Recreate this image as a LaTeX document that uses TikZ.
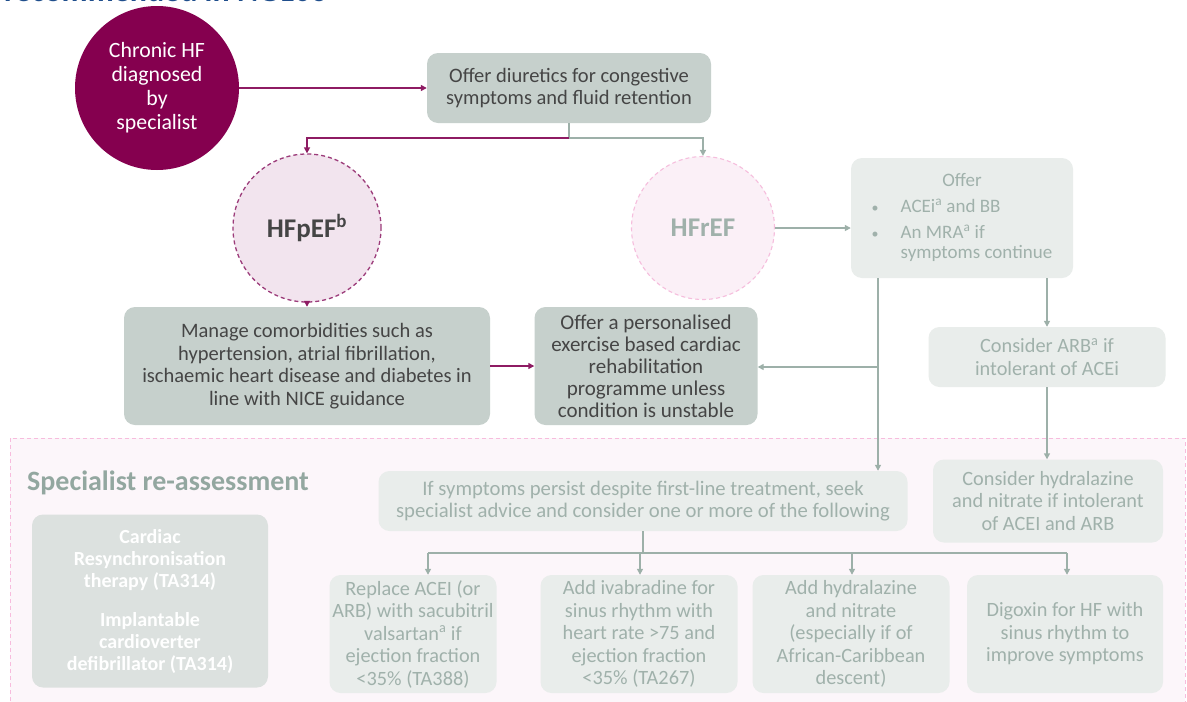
\documentclass[tikz,border=0pt]{standalone}
\usepackage{fontspec}
\setmainfont{Carlito}
\usetikzlibrary{arrows.meta}
\definecolor{chronicc}{HTML}{85004F}
\definecolor{magline}{HTML}{8E1B63}
\definecolor{pefFill}{HTML}{F2E4EE}
\definecolor{pefBorder}{HTML}{9C3C7A}
\definecolor{refFill}{HTML}{FBF0F7}
\definecolor{refBorder}{HTML}{F6BEDD}
\definecolor{darkBox}{HTML}{C6D0CC}
\definecolor{darkText}{HTML}{454545}
\definecolor{lightBox}{HTML}{E9EDEB}
\definecolor{lightText}{HTML}{A0B1AB}
\definecolor{lineGrey}{HTML}{9DB0A9}
\definecolor{secFill}{HTML}{FCF6FA}
\definecolor{secBorder}{HTML}{F7BCDD}
\definecolor{crtFill}{HTML}{DCE1DF}
\definecolor{specTitle}{HTML}{93A7A0}
\definecolor{titleBlue}{HTML}{1F4E8C}
\tikzset{
  boxbase/.style={rectangle, rounded corners=11pt, align=center, inner sep=0pt},
  darkbox/.style={boxbase, fill=darkBox, text=darkText, font=\fontsize{20.5}{22}\selectfont},
  lightbox/.style={boxbase, fill=lightBox, text=lightText, font=\fontsize{20.3}{22.5}\selectfont},
  marrow/.style={draw=magline, line width=1.4pt, -{Triangle[length=6pt,width=6pt]}},
  mline/.style={draw=magline, line width=1.4pt},
  garrow/.style={draw=lineGrey, line width=1.4pt, -{Triangle[length=6pt,width=6pt]}},
  gline/.style={draw=lineGrey, line width=1.4pt},
}
\begin{document}
\begin{tikzpicture}[x=1pt,y=-1pt]
\useasboundingbox (0,0) rectangle (1187,702);
\clip (0,0) rectangle (1187,702);
\fill[white] (0,0) rectangle (1187,702);
% cut-off title
\node[anchor=base west, inner sep=0pt, text=titleBlue, font=\fontsize{32}{32}\selectfont\bfseries] (title) at (4,1.5) {recommended in NG106};
% specialist section
\draw[fill=secFill, draw=secBorder, dashed, line width=1pt, dash pattern=on 4pt off 3pt] (10,438) rectangle (1185,712);
\node[anchor=base west, inner sep=0pt, text=specTitle, font=\fontsize{28}{28}\selectfont\bfseries] (spec) at (27,490) {Specialist re-assessment};
% nodes
\node[circle, fill=chronicc, text=white, minimum size=164pt, inner sep=0pt, align=center, font=\fontsize{21.8}{24}\selectfont] (chronic) at (157,88) {Chronic HF\\diagnosed\\by\\specialist};
\node[darkbox, minimum width=284pt, minimum height=70pt, font=\fontsize{20.5}{21.5}\selectfont] (diur) at (569,88) {Offer diuretics for congestive\\symptoms and fluid retention};
\node[circle, fill=pefFill, draw=pefBorder, dashed, dash pattern=on 4pt off 3pt, line width=1.3pt, minimum size=148pt, inner sep=0pt, text=darkText, font=\fontsize{27}{27}\selectfont\bfseries] (hfpef) at (307,228) {HFpEF\textsuperscript{b}};
\node[circle, fill=refFill, draw=refBorder, dashed, dash pattern=on 4pt off 3pt, line width=1.1pt, minimum size=143pt, inner sep=0pt, text=lightText, font=\fontsize{27}{27}\selectfont\bfseries] (hfref) at (703,228) {HFrEF};
\node[lightbox, minimum width=222pt, minimum height=120pt, font=\fontsize{19}{20}\selectfont] (offer) at (962,218) {%
\begin{tabular}{@{}l@{\hspace{22pt}}l@{}}
\multicolumn{2}{c}{Offer}\\[6pt]
{\fontsize{14}{14}\selectfont\textbullet} & ACEi\textsuperscript{a} and BB\\[6pt]
{\fontsize{14}{14}\selectfont\textbullet} & An MRA\textsuperscript{a} if\\
 & symptoms continue
\end{tabular}};
\node[darkbox, minimum width=366pt, minimum height=118pt, font=\fontsize{20.5}{22.7}\selectfont] (manage) at (307,366) {Manage comorbidities such as\\hypertension, atrial fibrillation,\\ischaemic heart disease and diabetes in\\line with NICE guidance};
\node[darkbox, minimum width=223pt, minimum height=118pt, font=\fontsize{21}{22}\selectfont] (pers) at (646,366) {Offer a personalised\\exercise based cardiac\\rehabilitation\\programme unless\\condition is unstable};
\node[lightbox, minimum width=237pt, minimum height=60pt] (arb) at (1047,357) {Consider ARB\textsuperscript{a} if\\intolerant of ACEi};
\node[lightbox, minimum width=230pt, minimum height=83pt] (hydr) at (1048,501) {Consider hydralazine\\and nitrate if intolerant\\of ACEI and ARB};
\node[boxbase, fill=crtFill, text=white, minimum width=236pt, minimum height=173pt, font=\fontsize{20}{22}\selectfont\bfseries] (crt) at (150,601) {Cardiac\\Resynchronisation\\therapy (TA314)\\[17pt]Implantable\\cardioverter\\defibrillator (TA314)};
\node[lightbox, minimum width=529pt, minimum height=60pt, font=\fontsize{20.7}{22}\selectfont] (ifbox) at (643,501) {If symptoms persist despite first-line treatment, seek\\specialist advice and consider one or more of the following};
\node[lightbox, minimum width=167pt, minimum height=118pt] (b1) at (413,634) {Replace ACEI (or\\ARB) with sacubitril\\valsartan\textsuperscript{a} if\\ejection fraction\\<35\% (TA388)};
\node[lightbox, minimum width=197pt, minimum height=118pt] (b2) at (639,634) {Add ivabradine for\\sinus rhythm with\\heart rate >75 and\\ejection fraction\\<35\% (TA267)};
\node[lightbox, minimum width=197pt, minimum height=118pt] (b3) at (851,634) {Add hydralazine\\and nitrate\\(especially if of\\African-Caribbean\\descent)};
\node[lightbox, minimum width=196pt, minimum height=118pt] (b4) at (1065,634) {Digoxin for HF with\\sinus rhythm to\\improve symptoms};
% coordinates
\coordinate (split) at (569,138);
\coordinate (oL) at (878,278);
\coordinate (oJ) at (878,367);
\coordinate (bus) at (643,553);
\coordinate (bus1) at (428,553);
\coordinate (bus2) at (640,553);
\coordinate (bus3) at (852,553);
\coordinate (bus4) at (1067,553);
% connectors
\draw[marrow] (chronic.east) -- (diur.west);
\draw[gline] (diur.south) -- (split);
\draw[marrow] (split) -| (hfpef.north);
\draw[garrow] (split) -| (hfref.north);
\draw[marrow] (hfpef.south) -- (manage.north);
\draw[marrow] (manage.east) -- (pers.west);
\draw[garrow] (hfref.east) -- (offer.west |- hfref.east);
\draw[garrow] (oL) -- (oL |- ifbox.north);
\draw[garrow] (oJ) -- (pers.east |- oJ);
\draw[garrow] (offer.south -| arb.north) -- (arb.north);
\draw[garrow] (arb.south) -- (arb.south |- hydr.north);
\draw[gline] (ifbox.south) -- (bus);
\draw[gline] (bus1) -- (bus4);
\draw[garrow] (bus1) -- (bus1 |- b1.north);
\draw[garrow] (bus2) -- (bus2 |- b2.north);
\draw[garrow] (bus3) -- (bus3 |- b3.north);
\draw[garrow] (bus4) -- (bus4 |- b4.north);
\end{tikzpicture}
\end{document}
